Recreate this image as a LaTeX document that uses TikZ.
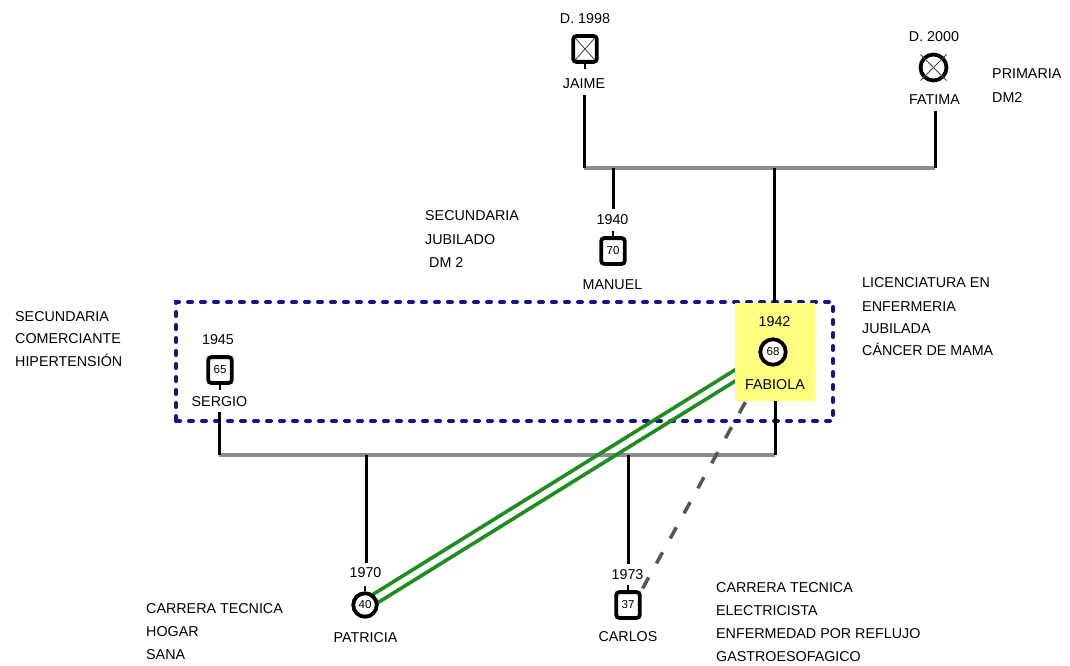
\documentclass[tikz,border=0pt]{standalone}
\usepackage{fontspec}
\setmainfont{Liberation Sans}
\usetikzlibrary{calc}
\pgfdeclarelayer{back}
\pgfsetlayers{back,main}
\definecolor{navyd}{RGB}{20,20,140}
\definecolor{barg}{RGB}{140,140,140}
\definecolor{gline}{RGB}{30,140,30}
\definecolor{dgray}{RGB}{85,85,85}
\definecolor{yel}{RGB}{255,255,128}
\begin{document}
\begin{tikzpicture}[x=1pt,y=-1pt,
  txt/.style={inner sep=0pt, font=\fontsize{14.3}{17}\selectfont, anchor=base},
  ltxt/.style={txt, anchor=base west},
  male/.style={draw, fill=white, line width=3.8pt, rounded corners=3pt, minimum width=23.5pt, minimum height=25.8pt, inner sep=0pt, font=\fontsize{11.5}{13}\selectfont},
  female/.style={circle, draw, fill=white, line width=3.8pt, minimum size=25pt, inner sep=0pt, font=\fontsize{11.5}{13}\selectfont},
  bar/.style={draw=barg, line width=4.2pt},
  vline/.style={draw=black, line width=3pt},
  stub/.style={draw=black, line width=2.5pt},
  xmark/.style={draw=black!75, line width=0.8pt},
  famrect/.style={draw=navyd, line width=4pt, dash pattern=on 4pt off 9pt, line cap=round, inner sep=0pt},
  marr/.style={draw=gline, line width=3.6pt},
  conf/.style={draw=dgray, line width=3.5pt, dash pattern=on 12.6pt off 16pt}]
\useasboundingbox (0,0) rectangle (1070,666);

% ---------- Jaime ----------
\node[txt] (jaimey) at (585,23.7) {D. 1998};
\node[male] (jaime) at (585,49) {};
\draw[xmark] ($(jaime.north west)+(3.8,3.8)$) -- ($(jaime.south east)-(3.8,3.8)$);
\draw[xmark] ($(jaime.north east)+(-3.8,3.8)$) -- ($(jaime.south west)+(3.8,-3.8)$);
\draw[stub] (jaime.south) -- ++(0,5);
\node[txt] (jaimen) at (584,88.2) {JAIME};

% ---------- Fatima ----------
\node[txt] (fatimay) at (934,41.2) {D. 2000};
\node[female, minimum size=26pt] (fatima) at (933.5,67.5) {};
\draw[xmark] ($(fatima.center)+(-13,-13)$) -- ($(fatima.center)+(13,13)$);
\draw[xmark] ($(fatima.center)+(13,-13)$) -- ($(fatima.center)+(-13,13)$);
\node[txt] (fatiman) at (934.5,104.7) {FATIMA};
\node[ltxt] (fat1) at (992,78.7) {PRIMARIA};
\node[ltxt] (fat2) at (992,102.7) {DM2};

% ---------- Manuel ----------
\node[ltxt] (man1) at (425,220.2) {SECUNDARIA};
\node[ltxt] (man2) at (425,244.2) {JUBILADO};
\node[ltxt] (man3) at (429,267.7) {DM 2};
\node[txt] (manuely) at (612.5,224.7) {1940};
\node[male] (manuel) at (613,251) {70};
\draw[stub] (manuel.north) -- ++(0,-5);
\node[txt] (manueln) at (612.5,289.2) {MANUEL};

% ---------- Fabiola ----------
\node[fill=yel, minimum width=80pt, minimum height=98pt, inner sep=0pt] (fabbox) at (774.5,352) {};
\node[txt] (fabiolay) at (774.5,326.2) {1942};
\node[female, minimum size=25.5pt] (fabiola) at (773,352) {68};
\node[txt] (fabiolan) at (775,389.2) {FABIOLA};
\node[ltxt] (fab1) at (862,287.7) {LICENCIATURA EN};
\node[ltxt] (fab2) at (862,311.2) {ENFERMERIA};
\node[ltxt] (fab3) at (862,333.2) {JUBILADA};
\node[ltxt] (fab4) at (862,355.7) {CÁNCER DE MAMA};

% ---------- Sergio ----------
\node[ltxt] (ser1) at (15,321.2) {SECUNDARIA};
\node[ltxt] (ser2) at (15,343.7) {COMERCIANTE};
\node[ltxt] (ser3) at (15,366.2) {HIPERTENSIÓN};
\node[txt] (sergioy) at (218,344.2) {1945};
\node[male] (sergio) at (220,370) {65};
\draw[stub] (sergio.south) -- ++(0,5);
\node[txt] (sergion) at (219.5,406.2) {SERGIO};

% ---------- Patricia ----------
\node[txt] (patriciay) at (365.5,577.7) {1970};
\node[female, minimum size=23.5pt] (patricia) at (365,605) {40};
\draw[stub] (patricia.north) -- ++(0,-5);
\node[txt] (patrician) at (365.5,642.2) {PATRICIA};
\node[ltxt] (pat1) at (146,613.2) {CARRERA TECNICA};
\node[ltxt] (pat2) at (146,636.2) {HOGAR};
\node[ltxt] (pat3) at (146,659.2) {SANA};

% ---------- Carlos ----------
\node[txt] (carlosy) at (627.5,579.2) {1973};
\node[male] (carlos) at (628,605) {37};
\draw[stub] (carlos.north) -- ++(0,-5);
\node[txt] (carlosn) at (628,641.2) {CARLOS};
\node[ltxt] (car1) at (716,592.2) {CARRERA TECNICA};
\node[ltxt] (car2) at (716,615.2) {ELECTRICISTA};
\node[ltxt] (car3) at (716,638.2) {ENFERMEDAD POR REFLUJO};
\node[ltxt] (car4) at (716,661.2) {GASTROESOFAGICO};

% ---------- connectors (behind) ----------
\coordinate (tl) at (584,168);
\coordinate (tr) at (935,168);
\coordinate (mt) at (613,168);
\coordinate (ft) at (774,168);
\coordinate (bl) at (219,455);
\coordinate (br) at (775,455);
\coordinate (pb) at (366,455);
\coordinate (cb) at (628,455);
\begin{pgfonlayer}{back}
  \node[famrect, minimum width=657pt, minimum height=119pt] (family) at (504.5,361.5) {};
  \draw[bar] (tl) -- (tr);
  \draw[bar] (bl) -- (br);
  \draw[vline, shorten <=6pt] (jaimen.south -| tl) -- (tl);
  \draw[vline, shorten <=6pt] (fatiman.south -| tr) -- (tr);
  \draw[vline, shorten >=6pt] (mt) -- (manuely.north -| mt);
  \draw[vline] (ft) -- (fabbox.north -| ft);
  \draw[vline, shorten <=5pt] (sergion.south -| bl) -- (bl);
  \draw[vline] (fabbox.south -| br) -- (br);
  \draw[vline, shorten >=5pt] (pb) -- (patriciay.north -| pb);
  \draw[vline, shorten >=5pt] (cb) -- (carlosy.north -| cb);
  \draw[marr] ($(patricia.center)!4.8pt!90:(fabiola.center)$) -- ($(fabiola.center)!4.8pt!-90:(patricia.center)$);
  \draw[marr] ($(patricia.center)!4.8pt!-90:(fabiola.center)$) -- ($(fabiola.center)!4.8pt!90:(patricia.center)$);
  \draw[conf] (fabiola.center) -- (carlos.north east);
\end{pgfonlayer}
\end{tikzpicture}
\end{document}
